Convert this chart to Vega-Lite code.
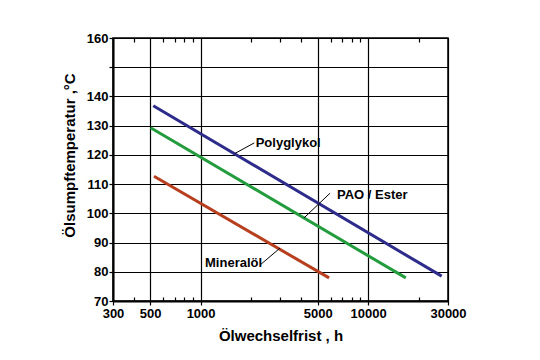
{
  "$schema": "https://vega.github.io/schema/vega-lite/v6.json",
  "width": 335,
  "height": 263,
  "autosize": {"type": "none"},
  "padding": {"left": 113, "top": 38, "right": 92, "bottom": 59},
  "background": "white",
  "config": {
    "font": "Liberation Sans",
    "view": {"stroke": "black", "strokeWidth": 1.5},
    "axis": {
      "labelFont": "Liberation Sans", "labelFontWeight": "bold", "labelFontSize": 13, "labelColor": "black",
      "titleFont": "Liberation Sans", "titleFontWeight": "bold", "titleFontSize": 15, "titleColor": "black",
      "gridColor": "black", "gridOpacity": 1, "gridWidth": 1.2,
      "domainColor": "black", "domainWidth": 2, "tickColor": "black", "tickWidth": 1.2
    }
  },
  "resolve": {"axis": {"x": "independent", "y": "independent"}},
  "layer": [
    {
      "data": {"values": [
        {"oil": "Polyglykol", "h": 522, "t": 136.8},
        {"oil": "Polyglykol", "h": 27500, "t": 78.5},
        {"oil": "PAO / Ester", "h": 503, "t": 129.3},
        {"oil": "PAO / Ester", "h": 16800, "t": 77.9},
        {"oil": "Mineralöl", "h": 527, "t": 112.7},
        {"oil": "Mineralöl", "h": 5850, "t": 77.9}
      ]},
      "mark": {"type": "line", "strokeWidth": 3},
      "encoding": {
        "x": {"field": "h", "type": "quantitative",
          "scale": {"type": "log", "domain": [300, 30000], "nice": false},
          "axis": {"orient": "bottom", "title": "Ölwechselfrist , h", "values": [300, 500, 1000, 5000, 10000, 30000],
            "format": "d", "grid": true, "tickSize": 4, "labelPadding": 2, "titlePadding": 8, "labelFlush": false, "labelOverlap": false}},
        "y": {"field": "t", "type": "quantitative",
          "scale": {"domain": [70, 160], "nice": false, "zero": false},
          "axis": {"title": "Ölsumpftemperatur ,°C", "values": [70, 80, 90, 100, 110, 120, 130, 140, 150, 160],
            "labelExpr": "datum.value == 150 ? '' : datum.label", "grid": true, "tickSize": 4, "labelPadding": 1, "titlePadding": 9, "titleY": 117, "labelFlush": false}},
        "color": {"field": "oil", "type": "nominal",
          "scale": {"domain": ["Polyglykol", "PAO / Ester", "Mineralöl"], "range": ["#2e2c8a", "#239c3e", "#b73f1e"]},
          "legend": null},
        "detail": {"field": "oil"}
      }
    },
    {
      "data": {"values": [
        {"x": 1604, "y": 120.5, "x2": 2090, "y2": 124.1},
        {"x": 4140, "y": 98.4, "x2": 5930, "y2": 106.9},
        {"x": 2264, "y": 82.3, "x2": 2978, "y2": 88.1}
      ]},
      "mark": {"type": "rule", "color": "black", "strokeWidth": 1},
      "encoding": {
        "x": {"field": "x", "type": "quantitative",
          "scale": {"type": "log", "domain": [300, 30000], "nice": false},
          "axis": {"orient": "top", "title": null, "values": [400, 600, 700, 800, 900, 2000, 3000, 4000, 6000, 7000, 8000, 9000, 20000],
            "labels": false, "domain": false, "grid": false, "tickSize": -4}},
        "x2": {"field": "x2"},
        "y": {"field": "y", "type": "quantitative", "axis": null},
        "y2": {"field": "y2"}
      }
    },
    {
      "data": {"values": [
        {"label": "Polyglykol", "x": 2133, "y": 124.2},
        {"label": "PAO / Ester", "x": 6520, "y": 106.4},
        {"label": "Mineralöl", "x": 1063, "y": 83.1}
      ]},
      "mark": {"type": "text", "align": "left", "baseline": "middle", "font": "Liberation Sans", "fontWeight": "bold", "fontSize": 13, "color": "black"},
      "encoding": {
        "x": {"field": "x", "type": "quantitative",
          "scale": {"type": "log", "domain": [300, 30000], "nice": false},
          "axis": {"orient": "bottom", "title": null, "values": [400, 600, 700, 800, 900, 2000, 3000, 4000, 6000, 7000, 8000, 9000, 20000],
            "labels": false, "domain": false, "grid": false, "tickSize": -4}},
        "y": {"field": "y", "type": "quantitative", "axis": null},
        "text": {"field": "label"}
      }
    }
  ]
}
